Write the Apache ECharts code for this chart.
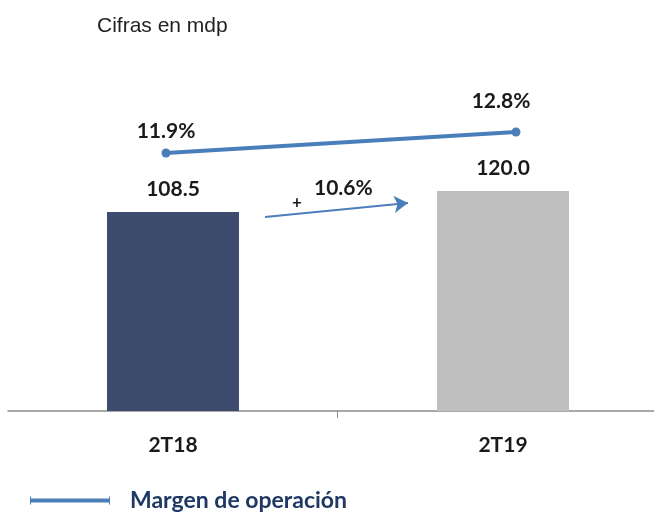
<!DOCTYPE html>
<html><head><meta charset="utf-8">
<script src="https://cdn.jsdelivr.net/npm/echarts@6/dist/echarts.min.js"></script>
<style>html,body{margin:0;padding:0;background:#fff}#c{width:654px;height:512px}</style>
</head><body><div id="c"></div>
<script>
const categories = ['2T18', '2T19'];
const ingresos = [108.5, 120.0];
const margen = [11.9, 12.8];
const crecimiento = '10.6%';
const barColors = ['#3d4b6e', '#bfbfbf'];

const chart = echarts.init(document.getElementById('c'));
const F = 'Lato, "Open Sans", sans-serif';
const blue = '#4a7ebb';
chart.setOption({
  animation: false,
  title: { text: 'Cifras en mdp', left: 92, top: 11, textStyle: { fontFamily: 'Liberation Sans, Arial', fontWeight: 'normal', fontSize: 21, color: '#222' } },
  legend: {
    data: ['Margen de operación'], left: 25, top: 484, itemWidth: 80, itemHeight: 8,
    icon: 'path://M0,0 L1,0 L1,2 L79,2 L79,0 L80,0 L80,8 L79,8 L79,6 L1,6 L1,8 L0,8 Z',
    textStyle: { fontFamily: F, fontWeight: 'bold', fontSize: 23, color: '#1f3864', padding: [0, 0, 0, 15] }
  },
  grid: [
    { left: 8, width: 660, top: 136, bottom: 101, outerBoundsMode: 'none', containLabel: false },
    { left: -9, width: 700, top: 104, height: 93.3, outerBoundsMode: 'none', containLabel: false },
    { left: 337, width: 400, top: 136, bottom: 101, outerBoundsMode: 'none', containLabel: false }
  ],
  xAxis: [
    { type: 'category', gridIndex: 0, data: categories,
      axisLine: { lineStyle: { color: '#8c8c8c', width: 1.5 } },
      axisTick: { show: false },
      axisLabel: { margin: 24, fontFamily: F, fontWeight: 'bold', fontSize: 21, color: '#1a1a1a' } },
    { type: 'category', gridIndex: 1, data: categories, show: false },
    { type: 'category', gridIndex: 2, data: [''],
      axisLine: { show: false }, axisLabel: { show: false },
      axisTick: { show: true, length: 7, interval: 0, lineStyle: { color: '#8c8c8c' } } }
  ],
  yAxis: [
    { type: 'value', gridIndex: 0, min: 0, max: 150, show: false, splitLine: { show: false } },
    { type: 'value', gridIndex: 1, min: 10, max: 14, show: false, splitLine: { show: false } },
    { type: 'value', gridIndex: 2, min: 0, max: 1, show: false, splitLine: { show: false } }
  ],
  series: [
    { type: 'bar', xAxisIndex: 0, yAxisIndex: 0, barWidth: '40%',
      data: ingresos.map((v, i) => ({ value: v, itemStyle: { color: barColors[i] } })),
      label: { show: true, position: 'top', distance: 12, formatter: p => p.value.toFixed(1), fontFamily: F, fontWeight: 'bold', fontSize: 21, color: '#1a1a1a' },
      markLine: { silent: true, symbol: ['none', 'arrow'], symbolSize: [13, 14],
        lineStyle: { color: blue, width: 2, type: 'solid' }, label: { show: false },
        data: [[{ x: 265, y: 217 }, { x: 408, y: 203 }]] }
    },
    { type: 'line', name: 'Margen de operación', xAxisIndex: 1, yAxisIndex: 1,
      data: margen.map((v, i) => ({ value: v, label: i === 0 ? { distance: 7 } : { distance: 16, offset: [-15, 0] } })),
      symbol: 'circle', symbolSize: 9, lineStyle: { color: blue, width: 4 }, itemStyle: { color: blue },
      label: { show: true, position: 'top', formatter: p => p.value.toFixed(1) + '%', fontFamily: F, fontWeight: 'bold', fontSize: 21, color: '#1a1a1a' } }
  ],
  graphic: [
    { type: 'text', left: 292, top: 194, style: { text: '+', font: 'bold 17px ' + F, fill: '#1a1a1a' } },
    { type: 'text', left: 314, top: 178, style: { text: crecimiento, font: 'bold 21px ' + F, fill: '#1a1a1a' } }
  ]
});
</script></body></html>
